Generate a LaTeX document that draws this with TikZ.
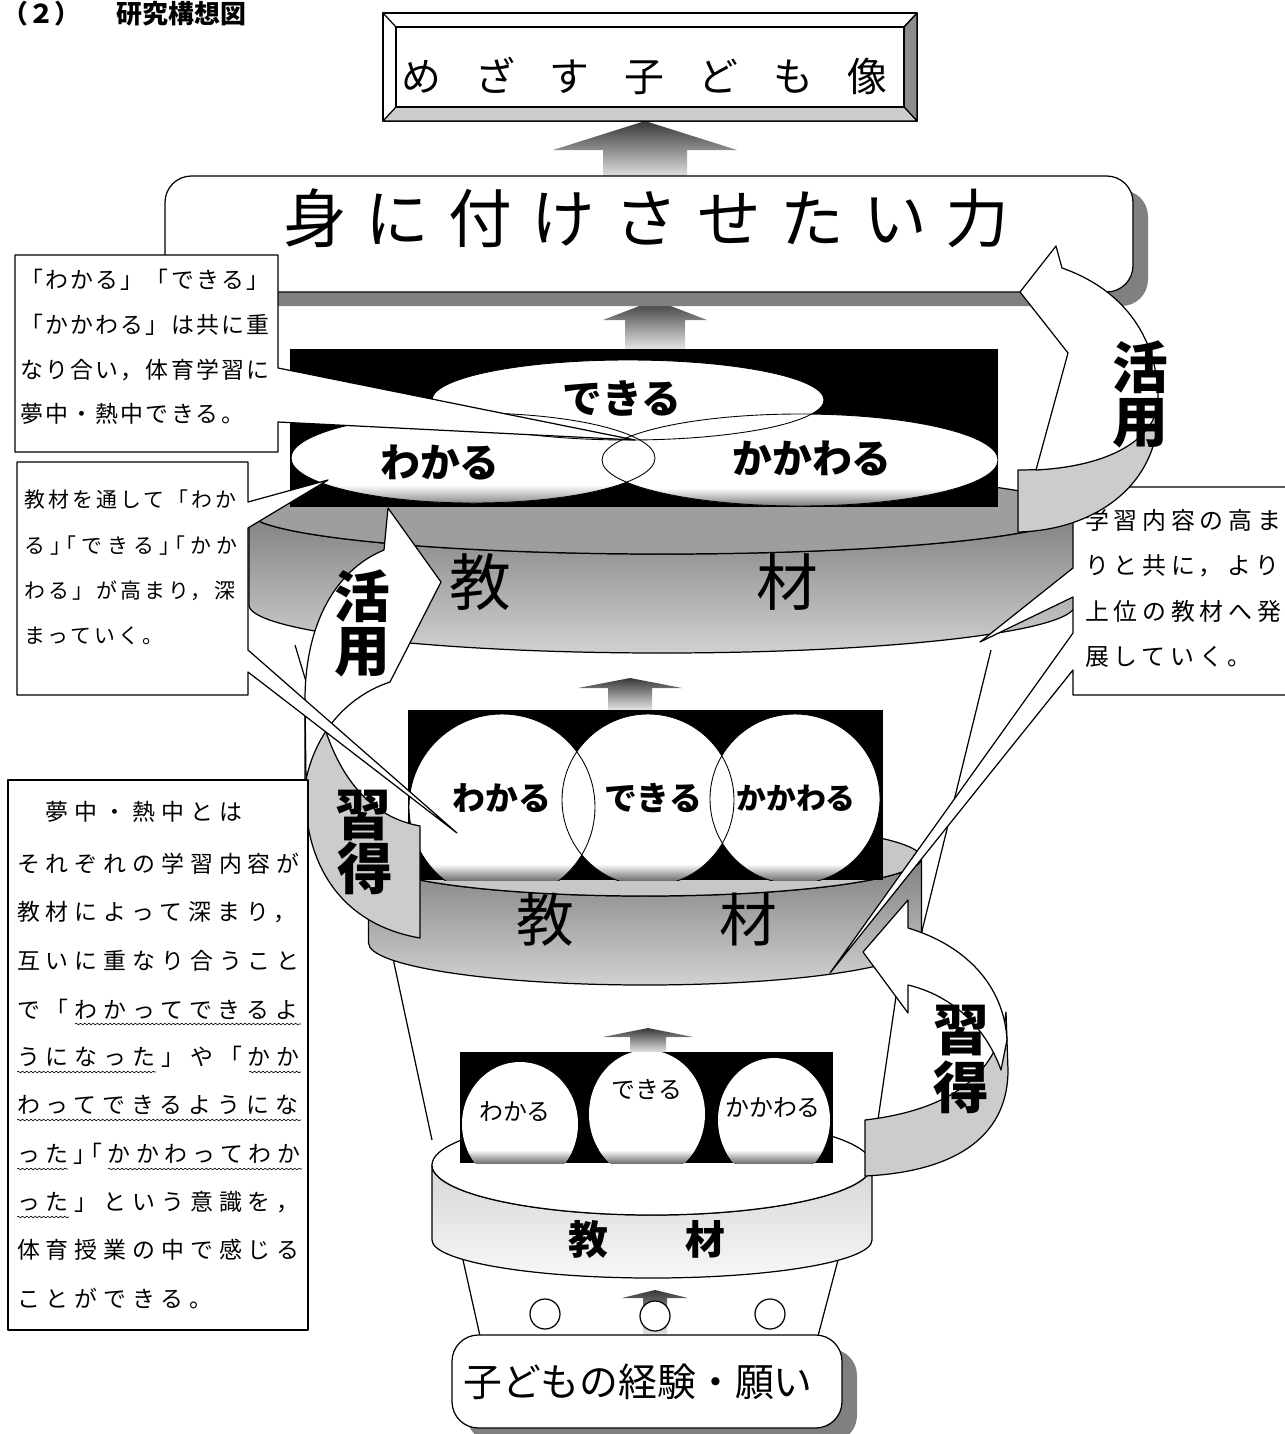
\documentclass[tikz,border=0pt]{standalone}
\usepackage{fontspec}
\setmainfont{Noto Sans CJK JP}
\usetikzlibrary{decorations.pathmorphing}
\newdimen\pxu
\pxu=0.5669pt
\newcommand\fpx[1]{\fontsize{#1\pxu}{#1\pxu}\selectfont}
\newcommand\lsp[1]{\addfontfeature{LetterSpace=#1}}
\newcommand\halfp{\addfontfeature{RawFeature=+halt}}
\newcommand\uparr[6]{\shade[top color=black!78,bottom color=black!6] (#1,#2) -- ({#1+#5},#3) -- ({#1+#6},#3) -- ({#1+#6},#4) -- ({#1-#6},#4) -- ({#1-#6},#3) -- ({#1-#5},#3) -- cycle;}
\begin{document}
\begin{tikzpicture}[x=0.02cm,y=-0.02cm,line join=round,
  ln/.style={line width=0.7pt},
  t/.style={inner sep=0pt,outer sep=0pt},
  tw/.style={inner sep=0pt,outer sep=0pt,anchor=west},
  wavy/.style={decorate,decoration={snake,amplitude=0.45pt,segment length=2.4pt},line width=0.35pt}]
\useasboundingbox (0,0) rectangle (1285,1434);
\clip (0,0) rectangle (1285,1434);

\node[tw] (title) at (3,14) {\fpx{26}\bfseries （２）\hspace{36\pxu}研究構想図};

% funnel lines
\draw[ln] (295,645) -- (372,900);
\draw[ln] (991,650) -- (921,935);
\draw[ln] (388,935) -- (432,1140);
\draw[ln] (905,935) -- (875,1140);
\draw[ln] (463,1260) -- (480,1336);
\draw[ln] (838,1260) -- (818,1336);

% small up arrows
\uparr{645}{121}{150}{182}{92}{42}
\uparr{655}{300}{320}{352}{52}{30}
\uparr{630}{678}{688}{712}{52}{22}
\uparr{648}{1028}{1037}{1054}{45}{18}
\uparr{655}{1290}{1298}{1336}{33}{12}

% upper cylinder
\shadedraw[top color=black!50,bottom color=black!18,ln] (249,512) -- (249,605) arc[start angle=180,end angle=0,x radius=413,y radius=48] -- (1075,512) arc[start angle=0,end angle=180,x radius=413,y radius=42] -- cycle;
\filldraw[fill=black!38,ln] (662,512) ellipse[x radius=413,y radius=42];
\node[t] (k1) at (480,582) {\fpx{62}教};
\node[t] (z1) at (787,582) {\fpx{62}材};

% black panel 1
\fill[black] (290,349) rectangle (998,507);
\begin{scope}
\clip (290,349) rectangle (998,507);
\fill[white] (628,400) ellipse[x radius=196,y radius=40];
\fill[white] (473,458) ellipse[x radius=182,y radius=45];
\fill[white] (800,460) ellipse[x radius=198,y radius=46];
\begin{scope}\clip (473,458) ellipse[x radius=182,y radius=45];
\shade[top color=white,bottom color=black!55] (290,485) rectangle (700,507);\end{scope}
\begin{scope}\clip (800,460) ellipse[x radius=198,y radius=46];
\shade[top color=white,bottom color=black!55] (600,488) rectangle (998,507);\end{scope}
\draw[line width=0.5pt] (628,400) ellipse[x radius=196,y radius=40];
\draw[line width=0.5pt] (473,458) ellipse[x radius=182,y radius=45];
\draw[line width=0.5pt] (800,460) ellipse[x radius=198,y radius=46];
\end{scope}
\node[t] (e1) at (622,398) {\fpx{40}\bfseries できる};
\node[t] (e2) at (440,462) {\fpx{40}\bfseries わかる};
\node[t] (e3) at (812,458) {\fpx{40}\bfseries かかわる};

% middle cylinder
\shadedraw[top color=black!50,bottom color=black!18,ln] (368.5,858) -- (368.5,943) arc[start angle=180,end angle=0,x radius=276.5,y radius=42] -- (921.5,858) arc[start angle=0,end angle=180,x radius=276.5,y radius=38] -- cycle;
\filldraw[fill=black!22,ln] (645,858) ellipse[x radius=276.5,y radius=38];
\node[t] (k2) at (545,920) {\fpx{58}教};
\node[t] (z2) at (748,920) {\fpx{58}材};

% black panel 2
\fill[black] (408,710) rectangle (883,880);
\begin{scope}
\clip (408,710) rectangle (883,880);
\fill[white] (502,807) circle[radius=93];
\fill[white] (648,800) circle[radius=86];
\fill[white] (795,799) circle[radius=85];
\begin{scope}\clip (502,807) circle[radius=93] (648,800) circle[radius=86] (795,799) circle[radius=85];
\shade[top color=white,bottom color=black!55] (408,864) rectangle (883,880);\end{scope}
\draw[line width=0.5pt] (502,807) circle[radius=93];
\draw[line width=0.5pt] (648,800) circle[radius=86];
\draw[line width=0.5pt] (795,799) circle[radius=85];
\end{scope}
\node[t] (m1) at (502,798) {\fpx{33}\bfseries わかる};
\node[t] (m2) at (653,798) {\fpx{33}\bfseries できる};
\node[t] (m3) at (796,798) {\fpx{30}\bfseries かかわる};

% lower cylinder
\shadedraw[top color=black!16,bottom color=black!3,ln] (432,1165) -- (432,1240) arc[start angle=180,end angle=0,x radius=220,y radius=38] -- (872,1165) arc[start angle=0,end angle=180,x radius=220,y radius=50] -- cycle;
\filldraw[fill=white,ln] (652,1165) ellipse[x radius=220,y radius=50];
\node[t] (k3) at (588,1239) {\fpx{40}\bfseries 教};
\node[t] (z3) at (705,1239) {\fpx{40}\bfseries 材};

% black panel 3
\fill[black] (460,1052) rectangle (833,1163);
\begin{scope}
\clip (460,1052) rectangle (833,1163);
\fill[white] (520,1124) ellipse[x radius=58,y radius=62];
\fill[white] (647,1114) ellipse[x radius=58,y radius=64];
\fill[white] (774,1120) ellipse[x radius=56,y radius=62];
\begin{scope}\clip (520,1124) ellipse[x radius=58,y radius=62] (647,1114) ellipse[x radius=58,y radius=64] (774,1120) ellipse[x radius=56,y radius=62];
\shade[top color=white,bottom color=black!55] (460,1150) rectangle (833,1163);\end{scope}
\end{scope}
\node[t] (s1) at (515,1112) {\fpx{24}わかる};
\node[t] (s2) at (647,1090) {\fpx{24}できる};
\node[t] (s3) at (773,1108) {\fpx{24}かかわる};

% small circles
\filldraw[fill=white,ln] (545,1314) circle[radius=15];
\filldraw[fill=white,ln] (655,1316) circle[radius=15];
\filldraw[fill=white,ln] (770,1314) circle[radius=15];

% child box
\fill[black!50,rounded corners=15] (467,1349) rectangle (857,1442);
\filldraw[fill=white,ln,rounded corners=15] (452,1335) rectangle (842,1428);
\node[t] (kodomo) at (638,1382) {\fpx{39}子どもの経験・願い};

% goal box (bevel)
\filldraw[fill=white,ln] (383,13) rectangle (917,121);
\filldraw[fill=black!45,ln] (917,13) -- (917,121) -- (904,107) -- (904,27) -- cycle;
\filldraw[fill=black!20,ln] (383,121) -- (917,121) -- (904,107) -- (396,107) -- cycle;
\draw[ln] (383,13) -- (396,27) (917,13) -- (904,27);
\draw[ln] (396,27) rectangle (904,107);
\node[tw] (goal) at (401,76) {\fpx{40}\lsp{87}めざす子ども像};

% ability box
\fill[black!50,rounded corners=15] (180,190) rectangle (1148,306);
\filldraw[fill=white,ln,rounded corners=15] (165,176) rectangle (1133,292);
\node[tw] (power) at (283,218) {\fpx{64}\lsp{30}身に付けさせたい力};

% left curved arrow
\filldraw[fill=black!20,ln] (420,826) -- (420,938) .. controls (345,925) and (305,870) .. (305,790) -- (305,700) -- (312,672) .. controls (325,760) and (360,815) .. (420,826) -- cycle;
\filldraw[fill=white,ln] (384,550) -- (388,508) -- (441,582) -- (390,682) .. controls (345,697) and (315,735) .. (306,780) -- (305,700) .. controls (305,625) and (335,570) .. (384,550) -- cycle;
\node[t] (la1) at (362,596) {\fpx{56}\bfseries 活};
\node[t] (la2) at (362,652) {\fpx{56}\bfseries 用};
\node[t] (la3) at (363,815) {\fpx{56}\bfseries 習};
\node[t] (la4) at (365,868) {\fpx{56}\bfseries 得};

% right lower curved arrow
\filldraw[fill=black!20,ln] (865,1120) -- (865,1176) .. controls (950,1172) and (1008,1140) .. (1008,1070) -- (1006,1012) .. controls (998,1075) and (950,1110) .. (865,1120) -- cycle;
\filldraw[fill=white,ln] (908,928) -- (908,900) -- (863,952) -- (908,1013) -- (908,985) .. controls (950,995) and (985,1025) .. (1001,1070) -- (1007,1040) .. controls (1004,985) and (965,945) .. (908,928) -- cycle;
\node[t] (ra1) at (961,1030) {\fpx{56}\bfseries 習};
\node[t] (ra2) at (961,1087) {\fpx{56}\bfseries 得};

% callout A
\filldraw[fill=white,ln] (15,255) -- (278,255) -- (278,368) -- (635,440) -- (278,422) -- (278,452) -- (15,452) -- cycle;
\node[tw] (a1) at (20,280) {\fpx{23}\lsp{10}「わかる」「できる」};
\node[tw] (a2) at (20,325) {\fpx{23}\lsp{10}「かかわる」は共に重};
\node[tw] (a3) at (20,370) {\fpx{23}\lsp{10}なり合い，体育学習に};
\node[tw] (a4) at (20,414) {\fpx{23}\lsp{10}夢中・熱中できる。};

% callout B
\filldraw[fill=white,ln] (17,462) -- (248,462) -- (248,502) -- (328,480) -- (248,528) -- (248,650) -- (457,833) -- (248,672) -- (248,695) -- (17,695) -- cycle;
\node[tw] (b1) at (25,500) {\fpx{21}\lsp{14}教材を通して「わか};
\node[tw] (b2) at (25,546) {\fpx{21}\halfp\lsp{24}る」「できる」「かか};
\node[tw] (b3) at (25,591) {\fpx{21}\lsp{14}わる」が高まり，深};
\node[tw] (b4) at (25,636) {\fpx{21}\lsp{14}まっていく。};

% callout C
\filldraw[fill=white,ln] (1073,487) -- (1300,487) -- (1300,695) -- (1073,695) -- (1073,670) -- (830,973) -- (1073,633) -- (1073,597) -- (980,642) -- (1073,568) -- cycle;
\node[tw] (c1) at (1085,520) {\fpx{24}\lsp{20}学習内容の高ま};
\node[tw] (c2) at (1085,566) {\fpx{24}\lsp{20}りと共に，より};
\node[tw] (c3) at (1085,611) {\fpx{24}\lsp{20}上位の教材へ発};
\node[tw] (c4) at (1085,657) {\fpx{24}\lsp{20}展していく。};

% right upper curved arrow
\filldraw[fill=black!20,ln] (1018,470) -- (1018,532) .. controls (1100,530) and (1162,480) .. (1158,405) .. controls (1145,448) and (1095,470) .. (1018,470) -- cycle;
\filldraw[fill=white,ln] (1036,470) -- (1068,353) -- (1020,292) -- (1056,246) -- (1062,268) .. controls (1125,290) and (1160,340) .. (1158,405) .. controls (1152,440) and (1110,466) .. (1036,470) -- cycle;
\node[t] (ru1) at (1140,367) {\fpx{56}\bfseries 活};
\node[t] (ru2) at (1140,423) {\fpx{56}\bfseries 用};

% callout D
\filldraw[fill=white,ln] (8,780) rectangle (308,1330);
\node[tw] (d1) at (17,812) {\fpx{23}\lsp{26}　夢中・熱中とは};
\node[tw] (d2) at (17,864) {\fpx{23}\lsp{26}それぞれの学習内容が};
\node[tw] (d3) at (17,912) {\fpx{23}\lsp{26}教材によって深まり，};
\node[tw] (d4) at (17,961) {\fpx{23}\lsp{26}互いに重なり合うこと};
\node[tw] (d5) at (17,1009) {\fpx{23}\lsp{26}で「わかってできるよ};
\node[tw] (d6) at (17,1057) {\fpx{23}\lsp{26}うになった」や「かか};
\node[tw] (d7) at (17,1105) {\fpx{23}\lsp{26}わってできるようにな};
\node[tw] (d8) at (17,1154) {\fpx{23}\halfp\lsp{24}った」「かかわってわか};
\node[tw] (d9) at (17,1202) {\fpx{23}\lsp{26}った」という意識を，};
\node[tw] (d10) at (17,1250) {\fpx{23}\lsp{26}体育授業の中で感じる};
\node[tw] (d11) at (17,1298) {\fpx{23}\lsp{26}ことができる。};
\draw[wavy] (75,1024) -- (301,1024);
\draw[wavy] (17,1072) -- (156,1072);
\draw[wavy] (249,1072) -- (301,1072);
\draw[wavy] (17,1120) -- (301,1120);
\draw[wavy] (17,1169) -- (68,1169);
\draw[wavy] (108,1169) -- (302,1169);
\draw[wavy] (17,1217) -- (69,1217);
\end{tikzpicture}
\end{document}
